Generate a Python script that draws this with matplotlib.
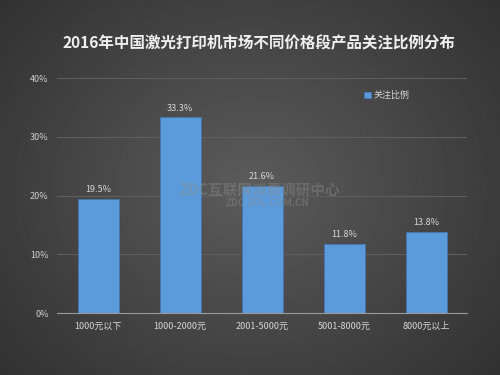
import matplotlib
matplotlib.use("Agg")
import matplotlib.pyplot as plt
import numpy as np

plt.rcParams['font.family'] = ['Noto Sans CJK SC', 'DejaVu Sans']

categories = ["1000元以下", "1000-2000元", "2001-5000元", "5001-8000元", "8000元以上"]
values = [19.5, 33.3, 21.6, 11.8, 13.8]
labels = ["19.5%", "33.3%", "21.6%", "11.8%", "13.8%"]
yticks = [0, 10, 20, 30, 40]
title = "2016年中国激光打印机市场不同价格段产品关注比例分布"
series_name = "关注比例"

fig = plt.figure(figsize=(5, 3.75), dpi=100)
# background gradient
bg = fig.add_axes([0, 0, 1, 1], zorder=-10)
xx = np.linspace(-1, 1, 300)
yy = np.linspace(-1, 1, 225)
X, Y = np.meshgrid(xx, yy)
R = np.sqrt(X**2 * 0.8 + Y**2 * 0.6)
img = 0.36 - 0.14 * np.clip(R, 0, 1.2)
bg.imshow(img, cmap='gray', vmin=0, vmax=1, aspect='auto', extent=[0, 1, 0, 1])
bg.axis('off')

ax = fig.add_axes([0.114, 0.165, 0.82, 0.627])
ax.patch.set_alpha(0)
x = np.arange(len(categories))
bars = ax.bar(x, values, width=0.5, color='#5b9bdb', edgecolor='#3f78b8', linewidth=0.5,
              label=series_name, zorder=3)
for xi, v, lab in zip(x, values, labels):
    ax.text(xi, v + 0.8, lab, ha='center', va='bottom', color='#d8d8d8', fontsize=6.5)

ax.set_xlim(-0.5, len(categories) - 0.5)
ax.set_ylim(0, 40)
ax.set_yticks(yticks)
ax.set_yticklabels([f"{t}%" for t in yticks], color='#d0d0d0', fontsize=6.5)
ax.set_xticks(x)
ax.set_xticklabels(categories, color='#d8d8d8', fontsize=6.5)
ax.tick_params(axis='both', length=0, pad=6)
ax.grid(axis='y', color='#5e5e5e', linewidth=0.8, zorder=0)
for s in ['top', 'right', 'left']:
    ax.spines[s].set_visible(False)
ax.spines['bottom'].set_color('#9a9a9a')
ax.spines['bottom'].set_linewidth(0.8)

leg = ax.legend(loc='upper left', bbox_to_anchor=(0.73, 0.98), frameon=False,
                fontsize=6.5, handlelength=0.7, handleheight=0.7, handletextpad=0.3,
                labelcolor='#d8d8d8')

fig.text(0.518, 0.885, title, ha='center', va='center', color='#f0f0f0',
         fontsize=11.2, fontweight='bold')

# watermark
fig.text(0.52, 0.495, "ZDC互联网消费调研中心", ha='center', va='center',
         color='#8a8a8a', alpha=0.45, fontsize=10.5, fontweight='bold', zorder=10)
fig.text(0.535, 0.458, "ZDC.ZOL.COM.CN", ha='center', va='center',
         color='#8a8a8a', alpha=0.45, fontsize=7, fontweight='bold', zorder=10)

fig.savefig("out.png", dpi=100)
